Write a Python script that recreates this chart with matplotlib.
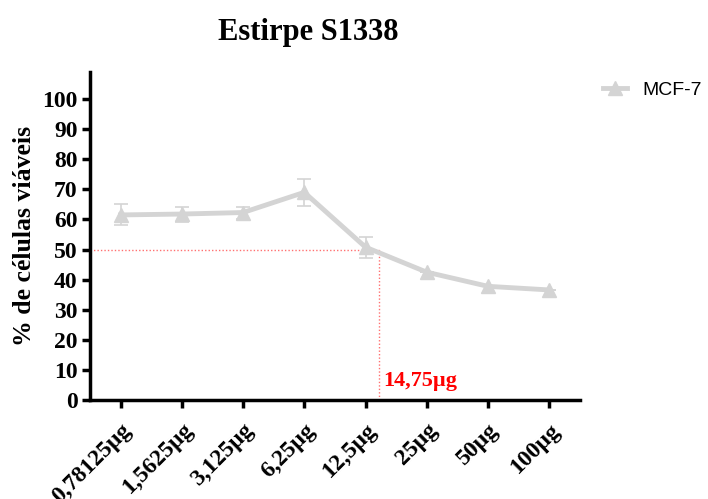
import matplotlib.pyplot as plt
from matplotlib.lines import Line2D

# data
doses = ['0,78125µg', '1,5625µg', '3,125µg', '6,25µg', '12,5µg', '25µg', '50µg', '100µg']
viab = [61.5, 61.8, 62.3, 69.0, 50.8, 42.5, 37.8, 36.6]
err = [3.5, 2.5, 2.0, 4.5, 3.5, 0.0, 0.0, 0.0]
ic50_pos = 4.22
ic50_val = 50
ic50_label = '14,75µg'

serif = 'Liberation Serif'
grey = '#d4d4d4'

fig = plt.figure(figsize=(7.08, 4.99), dpi=100)
ax = fig.add_axes([0.127, 0.198, 0.692, 0.658])

x = list(range(len(doses)))
ax.errorbar(x, viab, yerr=err, color=grey, lw=3.5, marker='^', ms=10,
            capsize=5, elinewidth=1.2, capthick=1.2, zorder=3)

# IC50 guide lines
ax.plot([-0.5, ic50_pos], [ic50_val, ic50_val], color='#ff7070', lw=1, ls=(0, (1, 1.5)), zorder=2)
ax.plot([ic50_pos, ic50_pos], [0, ic50_val], color='#ff7070', lw=1, ls=(0, (1, 1.5)), zorder=2)
ax.text(ic50_pos + 0.07, 6.5, ic50_label, color='red', fontsize=16, fontweight='bold',
        family=serif, ha='left', va='center')

ax.set_xlim(-0.5, 7.5)
ax.set_ylim(0, 109)
ax.set_yticks(range(0, 101, 10))
ax.set_xticks(x)
ax.set_xticklabels(doses, rotation=45, ha='right', rotation_mode='anchor')

for s in ['top', 'right']:
    ax.spines[s].set_visible(False)
for s in ['left', 'bottom']:
    ax.spines[s].set_linewidth(2.5)
ax.tick_params(width=2.5, length=6, pad=3)
ax.tick_params(axis='x', pad=8)
for lab in ax.get_xticklabels() + ax.get_yticklabels():
    lab.set_fontfamily(serif)
    lab.set_fontweight('bold')
    lab.set_fontsize(17)

ax.set_ylabel('% de células viáveis', family=serif, fontweight='bold', fontsize=18.5, labelpad=4)
fig.text(0.435, 0.935, 'Estirpe S1338', family=serif, fontweight='bold', fontsize=22,
         ha='center', va='center')

handle = Line2D([], [], color=grey, lw=3.5, marker='^', ms=10)
fig.legend([handle], ['MCF-7'], loc='center left', bbox_to_anchor=(0.852, 0.82), frameon=False,
           prop={'family': 'Liberation Sans', 'size': 14}, handlelength=1.2,
           handletextpad=0.8, borderpad=0, borderaxespad=0)

fig.savefig('out.png', dpi=100)
